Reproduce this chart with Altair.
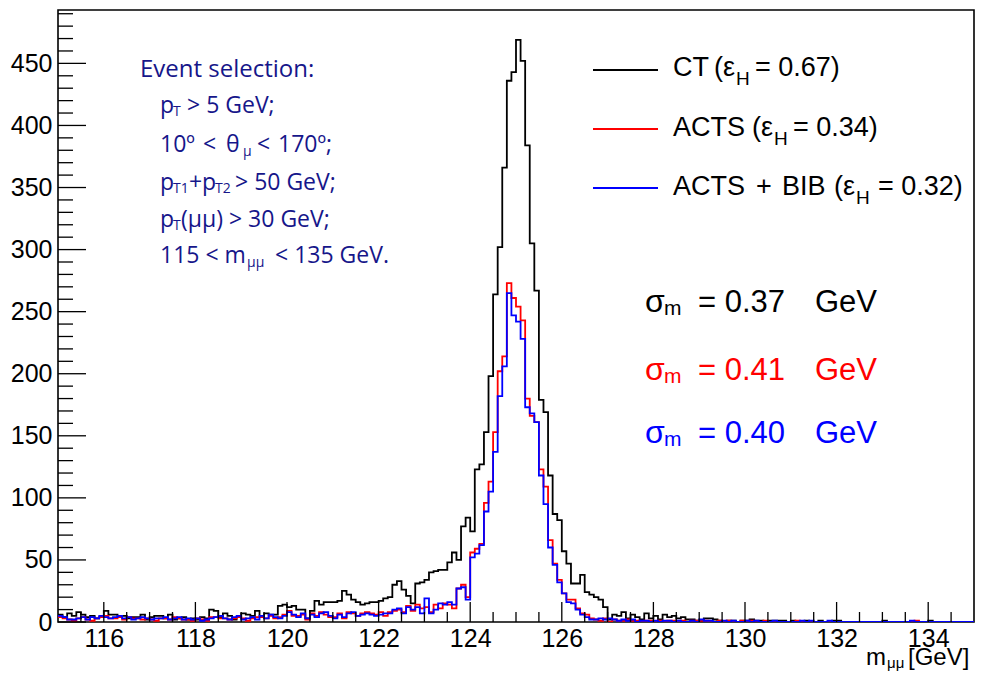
import altair as alt
import pandas as pd

# ---------------- data ----------------
X_MIN, X_MAX, BIN_W = 115.0, 135.0, 0.1
Y_MAX = 493

ct_counts = [
    6, 4, 7, 5, 8, 6, 4, 5, 3, 4,            # 115.x
    9, 6, 6, 4, 5, 3, 4, 4, 6, 2,            # 116.x
    4, 5, 5, 3, 6, 2, 3, 4, 2, 3,            # 117.x
    2, 4, 3, 10, 9, 4, 7, 5, 2, 4,           # 118.x
    7, 6, 5, 9, 5, 7, 6, 6, 13, 14,          # 119.x
    12, 13, 10, 10, 3, 9, 17, 14, 16, 16,    # 120.x
    16, 17, 25, 22, 18, 16, 14, 15, 16, 16,  # 121.x
    17, 19, 20, 30, 33, 26, 21, 15, 31, 32,  # 122.x
    34, 40, 41, 42, 42, 48, 56, 50, 77, 84,  # 123.x
    73, 123, 127, 153, 198, 264, 302, 366, 436, 443,  # 124.x
    469, 452, 384, 305, 267, 179, 169, 118, 87, 82,   # 125.x
    57, 47, 31, 31, 38, 24, 22, 20, 18, 12,  # 126.x
    2, 6, 5, 8, 3, 6, 4, 2, 7, 3,            # 127.x
    5, 2, 6, 4, 5, 3, 4, 2, 2, 1,            # 128.x
    0, 3, 3, 2, 1, 0, 1, 1, 0, 1,            # 129.x
    1, 2, 1, 1, 0, 1, 1, 1, 1, 0,            # 130.x
    1, 0, 0, 1, 0, 0, 1, 0, 0, 1,            # 131.x
    1, 0, 0, 0, 0, 0, 0, 0, 0, 0,            # 132.x
    1, 0, 0, 0, 0, 0, 0, 0, 0, 0,            # 133.x
    1, 0, 0, 0, 0, 0, 0, 0, 0, 0,            # 134.x
]

acts_counts = [
    4, 3, 2, 1, 3, 4, 2, 1, 3, 4,
    5, 3, 3, 4, 2, 4, 3, 3, 2, 3,
    2, 1, 3, 3, 2, 4, 3, 2, 2, 1,
    3, 2, 1, 4, 4, 3, 3, 2, 3, 4,
    3, 1, 3, 4, 4, 3, 5, 3, 4, 6,
    9, 5, 5, 6, 2, 7, 5, 8, 6, 4,
    4, 7, 3, 8, 7, 5, 7, 8, 7, 6,
    8, 5, 8, 9, 10, 8, 13, 9, 14, 11,
    12, 8, 14, 11, 15, 14, 11, 27, 30, 20,
    56, 59, 63, 96, 113, 153, 202, 214, 273, 261,
    254, 243, 180, 166, 161, 123, 109, 66, 47, 34,
    23, 18, 18, 11, 7, 6, 3, 2, 1, 3,
    0, 2, 1, 1, 2, 1, 1, 0, 1, 1,
    0, 1, 0, 1, 1, 0, 1, 0, 1, 1,
    1, 1, 0, 0, 1, 0, 1, 0, 0, 1,
    0, 1, 0, 0, 1, 0, 0, 0, 0, 0,
    0, 1, 0, 0, 0, 0, 0, 0, 0, 0,
    0, 0, 0, 0, 0, 0, 0, 0, 0, 0,
    0, 0, 0, 0, 0, 0, 0, 1, 0, 0,
    0, 0, 0, 0, 0, 0, 0, 0, 0, 0,
]

bib_counts = [
    5, 4, 2, 2, 3, 4, 2, 4, 3, 5,
    4, 3, 4, 5, 3, 4, 2, 3, 4, 3,
    2, 3, 3, 4, 2, 3, 4, 2, 3, 2,
    3, 1, 2, 3, 4, 5, 3, 2, 4, 5,
    2, 3, 4, 2, 5, 3, 6, 4, 3, 5,
    8, 6, 4, 7, 3, 6, 4, 7, 8, 5,
    3, 6, 4, 7, 8, 5, 6, 7, 6, 5,
    6, 7, 7, 10, 11, 7, 12, 10, 12, 7,
    19, 7, 10, 15, 14, 16, 14, 27, 28, 18,
    52, 55, 62, 89, 105, 137, 182, 206, 265, 247,
    242, 228, 173, 168, 161, 118, 95, 60, 46, 32,
    23, 16, 15, 10, 6, 4, 2, 2, 3, 2,
    3, 2, 1, 2, 1, 2, 0, 1, 1, 0,
    1, 0, 1, 1, 0, 1, 0, 0, 1, 0,
    2, 1, 1, 0, 0, 1, 0, 1, 0, 0,
    1, 0, 1, 0, 0, 0, 1, 0, 0, 0,
    0, 0, 1, 0, 1, 0, 0, 0, 1, 0,
    0, 0, 0, 0, 0, 0, 0, 0, 0, 0,
    0, 0, 0, 0, 0, 0, 1, 0, 0, 0,
    0, 0, 0, 0, 0, 0, 0, 0, 0, 0,
]

series_names = ["CT", "ACTS", "ACTS + BIB"]
series_colors = ["#000000", "#ff0000", "#0000ff"]

x_label_values = [116, 118, 120, 122, 124, 126, 128, 130, 132, 134]
x_minor_values = [115.5, 116.5, 117, 117.5, 118.5, 119, 119.5, 120.5, 121, 121.5,
                  122.5, 123, 123.5, 124.5, 125, 125.5, 126.5, 127, 127.5, 128.5,
                  129, 129.5, 130.5, 131, 131.5, 132.5, 133, 133.5, 134.5]
y_label_values = [0, 50, 100, 150, 200, 250, 300, 350, 400, 450]
y_minor_values = [v for v in range(10, 491, 10) if v % 50 != 0]

# ---------------- tables ----------------
n_bins = len(ct_counts)
edges = [round(X_MIN + BIN_W * i, 1) for i in range(n_bins)]
rows = []
for name, counts in zip(series_names, [ct_counts, acts_counts, bib_counts]):
    for e, c in zip(edges, counts):
        rows.append({"series": name, "m": e, "n": c})
    rows.append({"series": name, "m": X_MAX, "n": counts[-1]})
hist_df = pd.DataFrame(rows)

W, H = 916, 612
FONT = "Liberation Sans"
NAVY = "#16168a"

xs = alt.Scale(domain=[X_MIN, X_MAX], nice=False, zero=False)
ys = alt.Scale(domain=[0, Y_MAX], nice=False, zero=True)
x_axis = alt.Axis(values=x_label_values, ticks=False, domain=False, grid=False,
                  labelFontSize=25, labelFont=FONT, labelColor="black",
                  labelPadding=4, labelFlush=False, title=None, format="d")
y_axis = alt.Axis(values=y_label_values, ticks=False, domain=False, grid=False,
                  labelFontSize=25, labelFont=FONT, labelColor="black",
                  labelPadding=6, labelFlush=False, title=None, format="d")


def hist_layer(name, color):
    return alt.Chart(hist_df).transform_filter(
        alt.datum.series == name
    ).mark_line(interpolate="step-after", color=color, strokeWidth=1.8, clip=True).encode(
        x=alt.X("m:Q", scale=xs, axis=x_axis),
        y=alt.Y("n:Q", scale=ys, axis=y_axis),
    )


hist_layers = [hist_layer(n, c) for n, c in zip(series_names, series_colors)]

# inward ROOT-style ticks
y_major = alt.Chart(pd.DataFrame({"v": y_label_values})).mark_rule(color="black", strokeWidth=1.3).encode(
    y=alt.Y("v:Q", scale=ys, axis=y_axis), x=alt.value(0), x2=alt.value(28))
y_minor = alt.Chart(pd.DataFrame({"v": y_minor_values})).mark_rule(color="black", strokeWidth=1.3).encode(
    y=alt.Y("v:Q", scale=ys, axis=y_axis), x=alt.value(0), x2=alt.value(15))
x_major = alt.Chart(pd.DataFrame({"v": x_label_values})).mark_rule(color="black", strokeWidth=1.3).encode(
    x=alt.X("v:Q", scale=xs, axis=x_axis), y=alt.value(H), y2=alt.value(H - 20))
x_minor = alt.Chart(pd.DataFrame({"v": x_minor_values})).mark_rule(color="black", strokeWidth=1.3).encode(
    x=alt.X("v:Q", scale=xs, axis=x_axis), y=alt.value(H), y2=alt.value(H - 10))

# legend lines (pixel layout)
legend_lines = pd.DataFrame({
    "x0": [535, 535, 535], "x1": [600, 600, 600], "y": [60, 119, 178],
    "c": series_colors,
})
leg_rules = alt.Chart(legend_lines).mark_rule(strokeWidth=1.8).encode(
    x=alt.X("x0:Q", scale=None), x2="x1:Q", y=alt.Y("y:Q", scale=None),
    color=alt.Color("c:N", scale=None))

# text segments: text, x, y (pixel, plot-relative), size, color, group
K, R, B = "#000000", "#ff0000", "#0000ff"
segs = [
    # legend
    ("CT", 615, 66, 27, K, "leg"),
    ("(ε", 656, 66, 27, K, "leg"),
    ("H", 678, 75, 19, K, "leg"),
    ("= 0.67)", 697, 66, 27, K, "leg"),
    ("ACTS", 615, 126, 27, K, "leg"),
    ("(ε", 694, 126, 27, K, "leg"),
    ("H", 716, 135, 19, K, "leg"),
    ("= 0.34)", 735, 126, 27, K, "leg"),
    ("ACTS", 615, 185, 27, K, "leg"),
    ("+", 698, 185, 27, K, "leg"),
    ("BIB", 724, 185, 27, K, "leg"),
    ("(ε", 776, 185, 27, K, "leg"),
    ("H", 798, 194, 19, K, "leg"),
    ("= 0.32)", 820, 185, 27, K, "leg"),
    # resolutions
    ("σ", 587, 302, 32, K, "sig"),
    ("m", 606, 305, 21, K, "sig"),
    ("= 0.37", 640, 302, 31, K, "sig"),
    ("GeV", 757, 302, 31, K, "sig"),
    ("σ", 587, 370, 32, R, "sig"),
    ("m", 606, 373, 21, R, "sig"),
    ("= 0.41", 640, 370, 31, R, "sig"),
    ("GeV", 757, 370, 31, R, "sig"),
    ("σ", 587, 433, 32, B, "sig"),
    ("m", 606, 436, 21, B, "sig"),
    ("= 0.40", 640, 433, 31, B, "sig"),
    ("GeV", 757, 433, 31, B, "sig"),
    # event selection box
    ("Event selection:", 82, 67, 24, NAVY, "evt"),
    ("p", 102, 103, 23, NAVY, "evt"),
    ("T", 115, 106, 14, NAVY, "evt"),
    ("> 5 GeV;", 129, 103, 23, NAVY, "evt"),
    ("10º", 102, 142, 23, NAVY, "evt"),
    ("<", 145, 142, 23, NAVY, "evt"),
    ("θ", 168, 142, 23, NAVY, "evt"),
    ("μ", 185, 146, 14, NAVY, "evt"),
    ("<", 199, 142, 23, NAVY, "evt"),
    ("170º;", 220, 142, 23, NAVY, "evt"),
    ("p", 102, 180, 23, NAVY, "evt"),
    ("T1", 115, 183, 14, NAVY, "evt"),
    ("+", 131, 180, 23, NAVY, "evt"),
    ("p", 144, 180, 23, NAVY, "evt"),
    ("T2", 157, 183, 14, NAVY, "evt"),
    ("> 50 GeV;", 177, 180, 23, NAVY, "evt"),
    ("p", 102, 217, 23, NAVY, "evt"),
    ("T", 115, 220, 14, NAVY, "evt"),
    ("(μμ) > 30 GeV;", 123, 217, 23, NAVY, "evt"),
    ("115 < m", 102, 253, 23, NAVY, "evt"),
    ("μμ", 189, 257, 14, NAVY, "evt"),
    ("< 135 GeV.", 217, 253, 23, NAVY, "evt"),
    # x-axis title
    ("m", 808, 655, 24, K, "leg"),
    ("μμ", 829, 658, 15, K, "leg"),
    ("[GeV]", 850, 655, 24, K, "leg"),
]
text_df = pd.DataFrame(segs, columns=["text", "x", "y", "size", "color", "grp"])


def text_layer(grp, font):
    return alt.Chart(text_df).transform_filter(alt.datum.grp == grp).mark_text(
        align="left", baseline="alphabetic", font=font
    ).encode(
        x=alt.X("x:Q", scale=None), y=alt.Y("y:Q", scale=None),
        text="text:N", size=alt.Size("size:Q", scale=None),
        color=alt.Color("color:N", scale=None),
    )


texts = [text_layer("leg", FONT), text_layer("sig", FONT), text_layer("evt", "Open Sans")]

chart = alt.layer(
    *hist_layers, y_minor, y_major, x_minor, x_major, leg_rules, *texts
).properties(
    width=W, height=H,
    padding={"left": 50, "top": 2, "right": 1, "bottom": 50},
    autosize=alt.AutoSizeParams(type="none"),
    background="white",
).configure_view(stroke="black", strokeWidth=1.6)

chart.save("out.html", embed_options={"renderer": "svg", "actions": False})
